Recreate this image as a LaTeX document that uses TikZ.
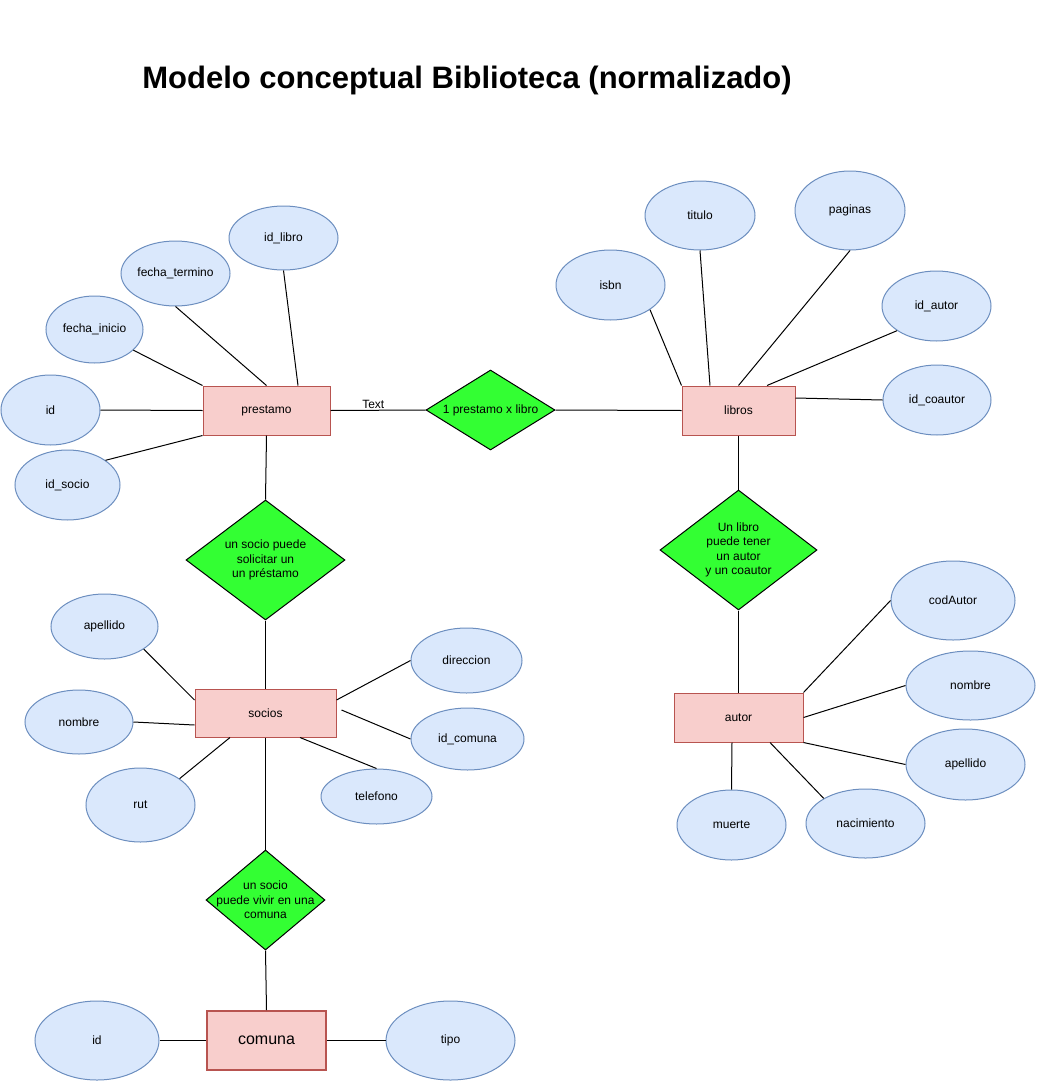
\documentclass[tikz,border=0pt]{standalone}
\usepackage{fontspec}
\setmainfont{Liberation Sans}
\usetikzlibrary{shapes.geometric}
\definecolor{attrfill}{HTML}{DAE8FC}
\definecolor{attrline}{HTML}{6C8EBF}
\definecolor{entfill}{HTML}{F8CECC}
\definecolor{entline}{HTML}{B85450}
\definecolor{relfill}{HTML}{33FF33}
\tikzset{
  attr/.style 2 args={ellipse, draw=attrline, fill=attrfill, line width=1pt, inner sep=0pt, minimum width=#1pt, minimum height=#2pt},
  ent/.style 2 args={rectangle, draw=entline, fill=entfill, line width=1pt, minimum width=#1pt, minimum height=#2pt},
  rel/.style 2 args={diamond, draw=black, fill=relfill, line width=1pt, inner sep=0pt, minimum width=#1pt, minimum height=#2pt},
  reltext/.style={align=center, inner sep=0pt},
  conn/.style={draw=black, line width=1pt}
}

\begin{document}
\begin{tikzpicture}[x=1pt,y=-1pt, every node/.style={font=\fontsize{12}{14.5}\selectfont}]
\useasboundingbox (0,0) rectangle (1036,1081);

\node[font=\fontsize{31}{36}\selectfont\bfseries] (title) at (467,80) {Modelo conceptual Biblioteca (normalizado)};

\node[ent={127}{49}] (prestamo) at (266.5,410.5) {prestamo};
\node[ent={113}{49}] (libros) at (738.5,410.5) {libros};
\node[ent={141}{48}] (socios) at (265.5,713) {socios};
\node[ent={129}{49}] (autor) at (738.5,717.5) {autor};
\node[ent={119}{59}, line width=2pt, font=\fontsize{16}{18}\selectfont] (comuna) at (266.5,1040.5) {comuna};

\node[rel={129}{80}, label={[reltext]center:1 prestamo x libro}] (dpl) at (490.5,410) {};
\node[rel={159}{120}, label={[reltext]center:un socio puede\\solicitar un\\ un préstamo}] (dsol) at (265.5,560) {};
\node[rel={157}{120}, label={[reltext]center:Un libro\\puede tener\\un autor\\ y un coautor}] (dlib) at (738.5,550) {};
\node[rel={119}{100}, label={[reltext]center:un socio\\puede vivir en una\\comuna}] (dviv) at (265.5,900) {};

\node[attr={109}{64}] (idlibro) at (283.5,238) {id\_libro};
\node[attr={109}{65}] (fechatermino) at (175.5,273.5) {fecha\_termino};
\node[attr={97}{67}] (fechainicio) at (94.5,329.5) {fecha\_inicio};
\node[attr={99}{70}] (idp) at (50.5,410) {id};
\node[attr={105}{70}] (idsocio) at (67.5,485) {id\_socio};

\node[attr={109}{70}] (isbn) at (610.5,285) {isbn};
\node[attr={110}{69}] (titulo) at (700,215.5) {titulo};
\node[attr={110}{79}] (paginas) at (850,210.5) {paginas};
\node[attr={109}{70}] (idautor) at (936.5,306) {id\_autor};
\node[attr={108}{70}] (idcoautor) at (937,400) {id\_coautor};

\node[attr={107}{65}] (apellidos) at (104.5,626.5) {apellido};
\node[attr={108}{64}] (nombres) at (79,722) {nombre};
\node[attr={109}{74}] (rut) at (140.5,805) {rut};
\node[attr={111}{65}] (direccion) at (466.5,660.5) {direccion};
\node[attr={113}{62}] (idcomuna) at (467.5,739) {id\_comuna};
\node[attr={111}{55}] (telefono) at (376.5,796.5) {telefono};

\node[attr={124}{79}] (codautor) at (953,600.5) {codAutor};
\node[attr={129}{69}] (nombrea) at (970.5,685.5) {nombre};
\node[attr={119}{71}] (apellidoa) at (965.5,764.5) {apellido};
\node[attr={119}{69}] (nacimiento) at (865.5,823.5) {nacimiento};
\node[attr={109}{70}] (muerte) at (731.5,825) {muerte};

\node[attr={124}{79}] (idc) at (97,1040.5) {id};
\node[attr={129}{79}] (tipo) at (450.5,1040.5) {tipo};

\draw[conn] ([xshift=31.5pt]prestamo.north) -- (idlibro.south);
\draw[conn] (prestamo.north) -- (fechatermino.south);
\draw[conn] (prestamo.north west) -- (fechainicio.-28);
\draw[conn] (prestamo.west) -- (idp.east);
\draw[conn] (prestamo.south west) -- (idsocio.33);
\draw[conn] (prestamo.east) -- node[pos=0.45, above, inner sep=0pt, yshift=1pt] (ltext) {Text} (dpl.west);
\draw[conn] (dpl.east) -- (libros.west);
\draw[conn] (prestamo.south) -- (dsol.north);

\draw[conn] (libros.north west) -- (isbn.-32);
\draw[conn] ([xshift=-28.5pt]libros.north) -- (titulo.south);
\draw[conn] (libros.north) -- (paginas.south);
\draw[conn] ([xshift=28.5pt]libros.north) -- (idautor.-148);
\draw[conn] ([yshift=12.5pt]libros.east) -- (idcoautor.west);
\draw[conn] (libros.south) -- (dlib.north);
\draw[conn] (dlib.south) -- (autor.north);

\draw[conn] (dsol.south) -- (socios.north);
\draw[conn] ([yshift=13pt]socios.west) -- (apellidos.-30);
\draw[conn] ([yshift=-12pt]socios.west) -- (nombres.east);
\draw[conn] ([xshift=-35.5pt]socios.south) -- (rut.34);
\draw[conn] ([yshift=13pt]socios.east) -- (direccion.west);
\draw[conn] ([xshift=5pt,yshift=3pt]socios.east) -- (idcomuna.west);
\draw[conn] ([xshift=34.5pt]socios.south) -- (telefono.north);
\draw[conn] (socios.south) -- (dviv.north);
\draw[conn] (dviv.south) -- (comuna.north);
\draw[conn] (comuna.west) -- (idc.east);
\draw[conn] (comuna.east) -- (tipo.west);

\draw[conn] (autor.north east) -- (codautor.west);
\draw[conn] (autor.east) -- (nombrea.west);
\draw[conn] (autor.south east) -- (apellidoa.west);
\draw[conn] ([xshift=31.5pt]autor.south) -- (nacimiento.149);
\draw[conn] ([xshift=-6.5pt]autor.south) -- (muerte.north);
\end{tikzpicture}
\end{document}
